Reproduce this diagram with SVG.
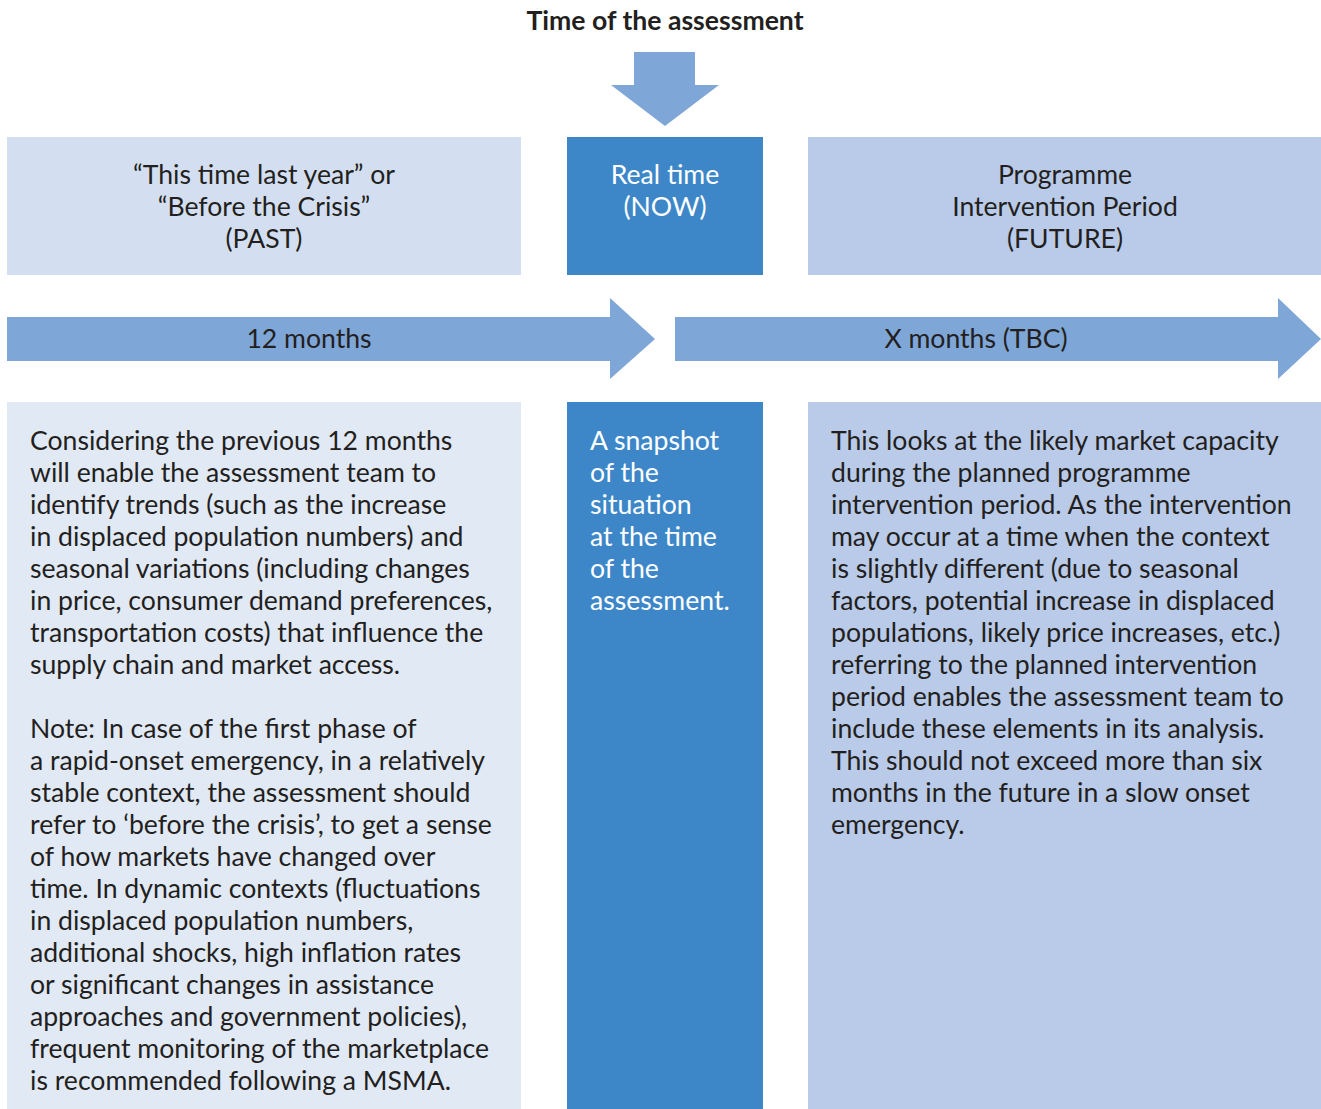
<svg xmlns="http://www.w3.org/2000/svg" width="1321" height="1109" viewBox="0 0 1321 1109">
<style>
text{font-family:Lato,"Open Sans","Liberation Sans",sans-serif;font-size:26.6px;fill:#231f20}
.title{font-weight:bold;font-size:26.6px}
.c{text-anchor:middle}
.w{fill:#ffffff}
.arrow{fill:#7ea6d7}
.past{fill:#d3dff0}
.pastb{fill:#e1e9f5}
.now{fill:#3d87c8}
.fut{fill:#b9cbe8}
</style>
<rect width="1321" height="1109" fill="#ffffff"/>
<g id="title">
<text class="title c" x="665" y="30">Time of the assessment</text>
</g>
<g id="connectors">
<polygon class="arrow" points="634,52 695,52 695,85 719,85 665,126 611,85 634,85"/>
<polygon id="arrow-past" class="arrow" points="7,317 610,317 610,298 655,339 610,379 610,361 7,361"/>
<polygon id="arrow-future" class="arrow" points="675,317 1278,317 1278,298 1321,339 1278,379 1278,361 675,361"/>
</g>
<g id="past-head">
<rect class="past" x="7" y="137" width="514" height="138"/>
<text class="c" x="264" y="184">“This time last year” or</text>
<text class="c" x="264" y="216">“Before the Crisis”</text>
<text class="c" x="264" y="248">(PAST)</text>
</g>
<g id="now-head">
<rect class="now" x="567" y="137" width="196" height="138"/>
<text class="c w" x="665" y="184">Real time</text>
<text class="c w" x="665" y="216">(NOW)</text>
</g>
<g id="future-head">
<rect class="fut" x="808" y="137" width="513" height="138"/>
<text class="c" x="1065" y="184">Programme</text>
<text class="c" x="1065" y="216">Intervention Period</text>
<text class="c" x="1065" y="248">(FUTURE)</text>
</g>
<g id="label-12">
<text class="c" x="309" y="348">12 months</text>
</g>
<g id="label-x">
<text class="c" x="976" y="348">X months (TBC)</text>
</g>
<g id="past-body">
<rect class="pastb" x="7" y="402" width="514" height="707"/>
<text x="30" y="450">Considering the previous 12 months</text>
<text x="30" y="482">will enable the assessment team to</text>
<text x="30" y="514">identify trends (such as the increase</text>
<text x="30" y="546">in displaced population numbers) and</text>
<text x="30" y="578">seasonal variations (including changes</text>
<text x="30" y="610">in price, consumer demand preferences,</text>
<text x="30" y="642">transportation costs) that influence the</text>
<text x="30" y="674">supply chain and market access.</text>
<text x="30" y="738">Note: In case of the first phase of</text>
<text x="30" y="770">a rapid-onset emergency, in a relatively</text>
<text x="30" y="802">stable context, the assessment should</text>
<text x="30" y="834">refer to ‘before the crisis’, to get a sense</text>
<text x="30" y="866">of how markets have changed over</text>
<text x="30" y="898">time. In dynamic contexts (fluctuations</text>
<text x="30" y="930">in displaced population numbers,</text>
<text x="30" y="962">additional shocks, high inflation rates</text>
<text x="30" y="994">or significant changes in assistance</text>
<text x="30" y="1026">approaches and government policies),</text>
<text x="30" y="1058">frequent monitoring of the marketplace</text>
<text x="30" y="1090">is recommended following a MSMA.</text>
</g>
<g id="now-body">
<rect class="now" x="567" y="402" width="196" height="707"/>
<text class="w" x="590" y="450">A snapshot</text>
<text class="w" x="590" y="482">of the</text>
<text class="w" x="590" y="514">situation</text>
<text class="w" x="590" y="546">at the time</text>
<text class="w" x="590" y="578">of the</text>
<text class="w" x="590" y="610">assessment.</text>
</g>
<g id="future-body">
<rect class="fut" x="808" y="402" width="513" height="707"/>
<text x="831" y="450">This looks at the likely market capacity</text>
<text x="831" y="482">during the planned programme</text>
<text x="831" y="514">intervention period. As the intervention</text>
<text x="831" y="546">may occur at a time when the context</text>
<text x="831" y="578">is slightly different (due to seasonal</text>
<text x="831" y="610">factors, potential increase in displaced</text>
<text x="831" y="642">populations, likely price increases, etc.)</text>
<text x="831" y="674">referring to the planned intervention</text>
<text x="831" y="706">period enables the assessment team to</text>
<text x="831" y="738">include these elements in its analysis.</text>
<text x="831" y="770">This should not exceed more than six</text>
<text x="831" y="802">months in the future in a slow onset</text>
<text x="831" y="834">emergency.</text>
</g>
</svg>
